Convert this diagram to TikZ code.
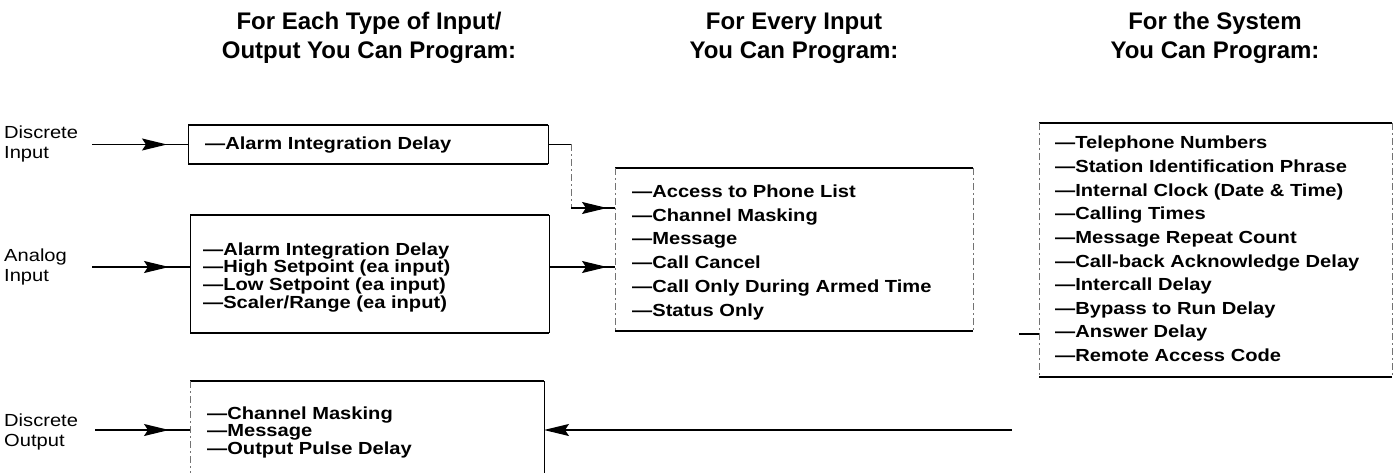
\documentclass[tikz,border=0pt]{standalone}
\usepackage{fontspec}
\setmainfont{Liberation Sans}
\newfontfamily\bodyfont[FakeStretch=1.15]{Liberation Sans}
\usetikzlibrary{arrows.meta,decorations.markings}

\tikzset{
  x=1pt, y=-1pt,
  head/.style={font=\bfseries\fontsize{24}{29}\selectfont, align=center, inner sep=0pt},
  item/.style={font=\bodyfont\bfseries\fontsize{17.5}{20}\selectfont, anchor=base west, inner sep=0pt},
  lbl/.style={font=\bodyfont\fontsize{17.5}{19.5}\selectfont, align=left, anchor=west, inner sep=0pt},
  area/.style={draw=none, inner sep=0pt, outer sep=0pt},
  hrule/.style={line width=2.2pt},
  vside/.style={line width=0.9pt},
  vfaint/.style={line width=0.8pt, black!55, dash pattern=on 7pt off 3pt on 2pt off 3pt},
  feed/.style={line width=1.4pt},
  bigtip/.tip={Stealth[length=25pt,width=12pt,inset=4pt]},
  tipmid/.style={postaction=decorate, decoration={markings,
      mark=at position #1 with {\arrow{bigtip}}}},
}

% a box: thick rules top and bottom, lighter sides
\newcommand\drawframe[3]{%
  \draw[hrule] (#1.north west) -- (#1.north east) (#1.south west) -- (#1.south east);
  \draw[#2] (#1.north west) -- (#1.south west);
  \draw[#3] (#1.north east) -- (#1.south east);}

\begin{document}
\begin{tikzpicture}
\useasboundingbox (0,0) rectangle (1395,473);
\clip (0,0) rectangle (1395,473);

% column headings
\node[head] (h1) at (369,38) {For Each Type of Input/\\Output You Can Program:};
\node[head] (h2) at (794,38) {For Every Input\\You Can Program:};
\node[head] (h3) at (1215,38) {For the System\\You Can Program:};

% box areas
\node[area, minimum width=360, minimum height=39]  (b1) at (368,144.5) {};
\node[area, minimum width=359, minimum height=118] (b2) at (369.5,274) {};
\node[area, minimum width=354, minimum height=120] (b3) at (367,441) {};
\node[area, minimum width=358, minimum height=163] (mid) at (794,249.5) {};
\node[area, minimum width=353, minimum height=254] (rb) at (1215.5,250) {};

\drawframe{b1}{vside}{vside}
\drawframe{b2}{vside}{vside}
\drawframe{b3}{vfaint}{vside}
\drawframe{mid}{vfaint}{vfaint}
\drawframe{rb}{vfaint}{vfaint}

% box contents
\node[item] (p1) at (205,150) {—Alarm Integration Delay};
\foreach \t [count=\i] in {Alarm Integration Delay, High Setpoint (ea input),
    Low Setpoint (ea input), Scaler/Range (ea input)}
  \node[item] (a\i) at (203,255+17.7*\i-17.7) {—\t};
\foreach \t [count=\i] in {Channel Masking, Message, Output Pulse Delay}
  \node[item] (o\i) at (207,419+17.5*\i-17.5) {—\t};
\foreach \t [count=\i] in {Access to Phone List, Channel Masking, Message,
    Call Cancel, Call Only During Armed Time, Status Only}
  \node[item] (m\i) at (632,197.5+23.7*\i-23.7) {—\t};
\foreach \t [count=\i] in {Telephone Numbers, Station Identification Phrase,
    Internal Clock (Date \& Time), Calling Times, Message Repeat Count,
    Call-back Acknowledge Delay, Intercall Delay, Bypass to Run Delay,
    Answer Delay, Remote Access Code}
  \node[item] (r\i) at (1055,149+23.6*\i-23.6) {—\t};

% signal labels
\node[lbl] (l1) at (4,144) {Discrete\\Input};
\node[lbl] (l2) at (4,267) {Analog\\Input};
\node[lbl] (l3) at (4,432) {Discrete\\Output};

% incoming signals
\coordinate (s1) at (92,144.5);
\coordinate (s2) at (92,267);
\coordinate (s3) at (95,430);
\draw[feed, tipmid=-21pt] (s1) -- (b1.west);
\draw[feed, tipmid=-21pt] (s2) -- (b2.west |- s2);
\draw[feed, tipmid=-21pt] (s3) -- (b3.west |- s3);

% type boxes into the per-input box
\coordinate (k1) at (571,144.5);
\coordinate (k2) at (571,208);
\coordinate (k3) at (549,267);
\draw[feed] (b1.east) -- (k1);
\draw[vfaint] (k1) -- (k2);
\draw[feed, tipmid=-8pt] (k2) -- (mid.west |- k2);
\draw[feed, tipmid=-8pt] (b2.east |- k3) -- (mid.west |- k3);

% system box back to the output box
\coordinate (q1) at (1019,334);
\coordinate (q2) at (1012,430);
\draw[feed] (rb.west |- q1) -- (q1);
\draw[feed, -bigtip] (q2) -- (b3.east |- q2);
\end{tikzpicture}
\end{document}
